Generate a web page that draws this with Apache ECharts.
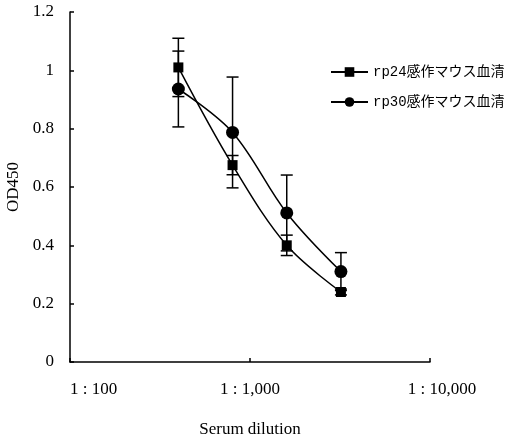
<!DOCTYPE html>
<html>
<head>
<meta charset="UTF-8">
<script src="https://cdn.jsdelivr.net/npm/echarts@6/dist/echarts.min.js"></script>
<style>
  html, body { margin: 0; padding: 0; background: #fff; }
  #main { width: 510px; height: 436px; }
</style>
</head>
<body>
<div id="main"></div>
<script>
    var dilutions = [400, 800, 1600, 3200];
    var rp24 = [1.01, 0.675, 0.40, 0.24];
    var rp24Err = [0.10, 0.033, 0.035, 0.01];
    var rp30 = [0.936, 0.787, 0.511, 0.31];
    var rp30Err = [0.13, 0.19, 0.13, 0.065];
    var seriesNames = ['rp24感作マウス血清', 'rp30感作マウス血清'];
    var xTicks = {100: '1 : 100', 1000: '1 : 1,000', 10000: '1 : 10,000'};

    var font = "'Liberation Serif', 'Noto Sans CJK JP', serif";
    var myChart = echarts.init(document.getElementById('main'));

    function pairs(vals) {
        return dilutions.map(function (d, i) { return [d, vals[i]]; });
    }
    function errData(vals, errs) {
        return dilutions.map(function (d, i) { return [d, vals[i] - errs[i], vals[i] + errs[i]]; });
    }
    // error bars with caps
    function renderErr(params, api) {
        var lo = api.coord([api.value(0), api.value(1)]);
        var hi = api.coord([api.value(0), api.value(2)]);
        var w = 6;
        var st = {stroke: '#000', lineWidth: 1.5};
        return {
            type: 'group',
            children: [
                {type: 'line', shape: {x1: lo[0], y1: lo[1], x2: hi[0], y2: hi[1]}, style: st},
                {type: 'line', shape: {x1: lo[0] - w, y1: lo[1], x2: lo[0] + w, y2: lo[1]}, style: st},
                {type: 'line', shape: {x1: hi[0] - w, y1: hi[1], x2: hi[0] + w, y2: hi[1]}, style: st}
            ]
        };
    }

    myChart.setOption({
        backgroundColor: '#fff',
        animation: false,
        textStyle: {fontFamily: font},
        grid: {left: 70, right: 80, top: 12, bottom: 74, outerBoundsMode: 'none', containLabel: false},
        legend: {
            orient: 'vertical',
            left: 325,
            top: 60,
            itemWidth: 37,
            itemHeight: 12,
            itemGap: 16,
            data: seriesNames,
            textStyle: {
                fontFamily: "'Liberation Mono', 'Noto Sans CJK JP', monospace",
                fontSize: 14,
                color: '#000'
            }
        },
        xAxis: {
            type: 'log',
            logBase: 10,
            min: 100,
            max: 10000,
            name: 'Serum dilution',
            nameLocation: 'middle',
            nameGap: 59,
            nameTextStyle: {fontFamily: font, fontSize: 17, color: '#000'},
            axisLine: {lineStyle: {color: '#000', width: 1.5}},
            axisTick: {inside: true, length: 4, lineStyle: {color: '#000', width: 1.5}},
            minorTick: {show: false},
            splitLine: {show: false},
            axisLabel: {
                margin: 19,
                fontFamily: font,
                fontSize: 17,
                color: '#000',
                alignMinLabel: 'left',
                formatter: function (v) {
                    var t = xTicks[Math.round(v)] || '';
                    return Math.round(v) === 10000 ? '{r|' + t + '}' : t;
                },
                rich: {r: {fontFamily: font, fontSize: 17, color: '#000', padding: [0, 0, 0, 24]}}
            }
        },
        yAxis: {
            type: 'value',
            min: 0,
            max: 1.2,
            interval: 0.2,
            name: 'OD450',
            nameLocation: 'middle',
            nameGap: 43,
            nameTextStyle: {fontFamily: font, fontSize: 17, color: '#000'},
            axisLine: {show: true, lineStyle: {color: '#000', width: 1.5}},
            axisTick: {show: true, inside: true, length: 4, lineStyle: {color: '#000', width: 1.5}},
            splitLine: {show: false},
            axisLabel: {margin: 16, fontFamily: font, fontSize: 17, color: '#000'}
        },
        series: [
            {
                name: 'err24',
                type: 'custom',
                renderItem: renderErr,
                data: errData(rp24, rp24Err),
                z: 1,
                silent: true
            },
            {
                name: 'err30',
                type: 'custom',
                renderItem: renderErr,
                data: errData(rp30, rp30Err),
                z: 1,
                silent: true
            },
            {
                name: seriesNames[0],
                type: 'line',
                data: pairs(rp24),
                smooth: 0.35,
                symbol: 'rect',
                symbolSize: 10,
                itemStyle: {color: '#000'},
                lineStyle: {color: '#000', width: 1.5},
                z: 3
            },
            {
                name: seriesNames[1],
                type: 'line',
                data: pairs(rp30),
                smooth: 0.35,
                symbol: 'circle',
                symbolSize: 13,
                itemStyle: {color: '#000'},
                lineStyle: {color: '#000', width: 1.5},
                z: 3
            }
        ]
    });
</script>
</body>
</html>
